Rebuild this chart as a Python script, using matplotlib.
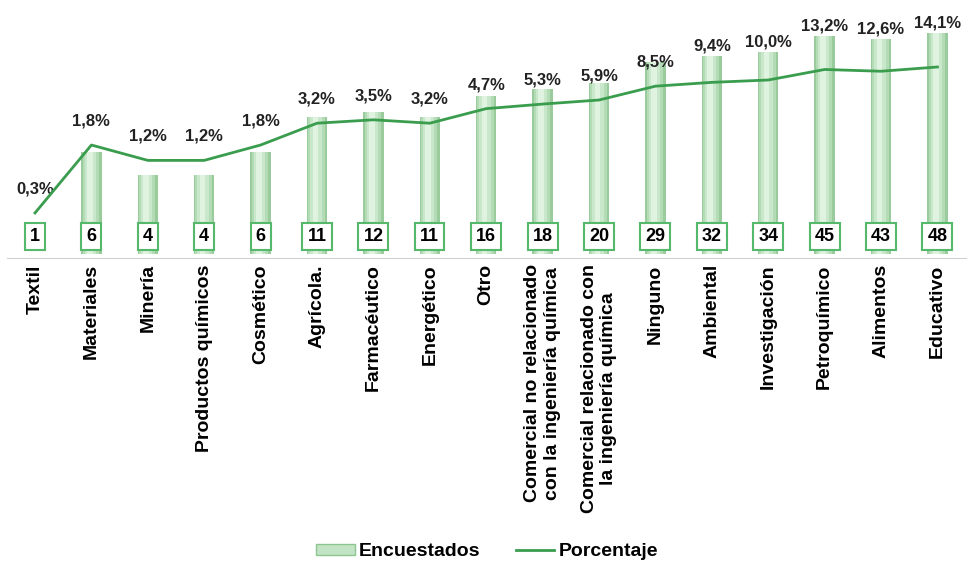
import matplotlib
matplotlib.use('Agg')
import matplotlib.pyplot as plt
import matplotlib.transforms as mtransforms
from matplotlib.patches import Patch
from matplotlib.lines import Line2D

categorias = ['Textil', 'Materiales', 'Minería', 'Productos químicos', 'Cosmético',
              'Agrícola.', 'Farmacéutico', 'Energético', 'Otro',
              'Comercial no relacionado\ncon la ingeniería química',
              'Comercial relacionado con\nla ingeniería química',
              'Ninguno', 'Ambiental', 'Investigación', 'Petroquímico', 'Alimentos', 'Educativo']
encuestados = [1, 6, 4, 4, 6, 11, 12, 11, 16, 18, 20, 29, 32, 34, 45, 43, 48]
porcentaje = [0.3, 1.8, 1.2, 1.2, 1.8, 3.2, 3.5, 3.2, 4.7, 5.3, 5.9, 8.5, 9.4, 10.0, 13.2, 12.6, 14.1]
etiquetas_pct = ['0,3%', '1,8%', '1,2%', '1,2%', '1,8%', '3,2%', '3,5%', '3,2%', '4,7%', '5,3%',
                 '5,9%', '8,5%', '9,4%', '10,0%', '13,2%', '12,6%', '14,1%']

plt.rcParams['font.family'] = ['Liberation Sans', 'DejaVu Sans']

fig = plt.figure(figsize=(9.74, 5.65), dpi=100)
ax = fig.add_axes([0.007, 1 - 258 / 565, 0.9844, 238 / 565])
x = list(range(len(categorias)))
alto = [v - 1 for v in encuestados]

# barras tipo cilindro: varias capas para simular el degradado
ax.bar(x, alto, bottom=1, width=0.36, color='#9acb9d', zorder=2)
ax.bar([i - 0.01 for i in x], alto, bottom=1, width=0.29, color='#b3dbb5', zorder=2)
ax.bar([i - 0.02 for i in x], alto, bottom=1, width=0.20, color='#c9e7ca', zorder=2)
ax.bar([i - 0.03 for i in x], alto, bottom=1, width=0.10, color='#e0f2e0', zorder=2)
ax.set_yscale('log')
ax.set_ylim(0.932, 60)
ax.set_xlim(-0.5, len(categorias) - 0.5)

ax2 = ax.twinx()
ax2.plot(x, porcentaje, color='#3a9d4e', lw=2, zorder=3)
ax2.set_yscale('log')
ax2.set_ylim(0.0914, 48.7)

for a in (ax, ax2):
    for s in ['top', 'right', 'left']:
        a.spines[s].set_visible(False)
    a.tick_params(left=False, right=False, labelleft=False, labelright=False, bottom=False)
    a.yaxis.set_minor_locator(matplotlib.ticker.NullLocator())
ax.spines['bottom'].set_color('#d0d0d0')
ax2.spines['bottom'].set_visible(False)

ax.set_xticks(x)
ax.set_xticklabels(categorias, rotation=90, fontsize=14, fontweight='bold',
                   va='top', ha='center', multialignment='center')
ax.tick_params(axis='x', pad=1)

# cajas con el numero de encuestados
trans = mtransforms.blended_transform_factory(ax.transData, ax.transAxes)
for i, v in enumerate(encuestados):
    ax2.text(i, 0.092, str(v), transform=trans, ha='center', va='center', fontsize=13,
             fontweight='bold', zorder=5,
             bbox=dict(boxstyle='square,pad=0.28', fc='white', ec='#55b86a', lw=1.5))

# etiquetas de porcentaje
inv = ax.transData.inverted()
for i in x:
    ly = ax2.transData.transform((i, porcentaje[i]))[1] + 24
    by = ax.transData.transform((i, encuestados[i]))[1]
    if ly < by - 2:
        ly = by + 10
    yy = inv.transform((0, ly))[1]
    ax.text(i, yy, etiquetas_pct[i], ha='center', va='center', fontsize=12,
            fontweight='bold', color='#222222', zorder=6)

handles = [Patch(facecolor='#c3e4c4', edgecolor='#8cc58f'),
           Line2D([0], [0], color='#3a9d4e', lw=2)]
fig.legend(handles, ['Encuestados', 'Porcentaje'], loc='center',
           bbox_to_anchor=(487 / 974, 1 - 552 / 565), ncol=2, frameon=False,
           prop={'size': 14, 'weight': 'bold'}, handlelength=2.0, handleheight=0.5,
           columnspacing=1.8, handletextpad=0.2)

fig.savefig('out.png', dpi=100)
